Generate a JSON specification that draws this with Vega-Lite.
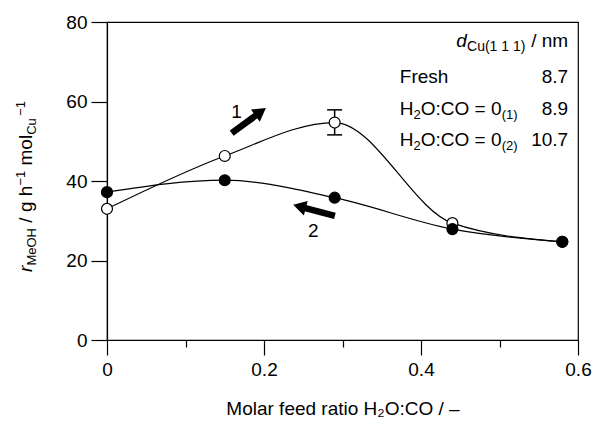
{
  "$schema": "https://vega.github.io/schema/vega-lite/v6.json",
  "width": 471,
  "height": 318,
  "autosize": {"type": "none"},
  "padding": {"left": 107, "top": 22, "right": 18, "bottom": 82},
  "background": "white",
  "config": {
    "view": {"stroke": "#000", "strokeWidth": 1.2},
    "font": "Liberation Sans",
    "text": {"font": "Liberation Sans", "fontSize": 19, "color": "#000", "baseline": "alphabetic"}
  },
  "datasets": {
    "rates": [
      {"ratio": 0, "rate": 33.0, "run": "1"},
      {"ratio": 0.15, "rate": 46.3, "run": "1"},
      {"ratio": 0.29, "rate": 54.7, "run": "1"},
      {"ratio": 0.44, "rate": 29.4, "run": "1"},
      {"ratio": 0.58, "rate": 24.7, "run": "1"},
      {"ratio": 0, "rate": 37.2, "run": "2"},
      {"ratio": 0.15, "rate": 40.2, "run": "2"},
      {"ratio": 0.29, "rate": 35.8, "run": "2"},
      {"ratio": 0.44, "rate": 27.9, "run": "2"},
      {"ratio": 0.58, "rate": 24.7, "run": "2"}
    ],
    "err": [{"ratio": 0.29, "lo": 51.6, "hi": 57.9}],
    "one": [{}]
  },
  "layer": [
    {
      "data": {"name": "rates"},
      "mark": {"type": "line", "interpolate": "monotone", "color": "#000", "strokeWidth": 1.2},
      "encoding": {
        "x": {
          "field": "ratio", "type": "quantitative",
          "scale": {"domain": [0, 0.6], "nice": false, "zero": false},
          "axis": {
            "values": [0, 0.1, 0.2, 0.3, 0.4, 0.5, 0.6],
            "format": "~g",
            "labelExpr": "round(datum.value*10)%2==0 ? datum.label : ''",
            "tickSize": {"condition": {"test": "round(datum.value*10)%2==0", "value": 15}, "value": 7},
            "grid": false,
            "domainColor": "#000", "domainWidth": 1.2,
            "tickColor": "#000", "tickWidth": 1.2,
            "labelColor": "#000", "labelFont": "Liberation Sans", "labelFontSize": 19,
            "labelPadding": 5, "labelFlush": false,
            "title": "Molar feed ratio H₂O:CO / –",
            "titleFont": "Liberation Sans", "titleFontSize": 19, "titleFontWeight": "normal",
            "titleColor": "#000", "titlePadding": 20
          }
        },
        "y": {
          "field": "rate", "type": "quantitative",
          "scale": {"domain": [0, 80], "nice": false},
          "axis": {
            "values": [0, 10, 20, 30, 40, 50, 60, 70, 80],
            "labelExpr": "round(datum.value/10)%2==0 ? datum.label : ''",
            "tickSize": {"condition": {"test": "round(datum.value/10)%2==0", "value": 16}, "value": 8},
            "grid": false,
            "domainColor": "#000", "domainWidth": 1.2,
            "tickColor": "#000", "tickWidth": 1.2,
            "labelColor": "#000", "labelFont": "Liberation Sans", "labelFontSize": 19,
            "labelPadding": 4,
            "title": null
          }
        },
        "detail": {"field": "run"}
      }
    },
    {
      "data": {"name": "err"},
      "mark": {"type": "rule", "color": "#000", "strokeWidth": 1.5},
      "encoding": {
        "x": {"field": "ratio", "type": "quantitative"},
        "y": {"field": "lo", "type": "quantitative"},
        "y2": {"field": "hi"}
      }
    },
    {
      "data": {"name": "err"},
      "mark": {"type": "tick", "orient": "horizontal", "size": 15, "thickness": 1.5, "color": "#000", "opacity": 1},
      "encoding": {
        "x": {"field": "ratio", "type": "quantitative"},
        "y": {"field": "lo", "type": "quantitative"}
      }
    },
    {
      "data": {"name": "err"},
      "mark": {"type": "tick", "orient": "horizontal", "size": 15, "thickness": 1.5, "color": "#000", "opacity": 1},
      "encoding": {
        "x": {"field": "ratio", "type": "quantitative"},
        "y": {"field": "hi", "type": "quantitative"}
      }
    },
    {
      "data": {"name": "rates"},
      "transform": [{"filter": "datum.run == '1'"}],
      "mark": {"type": "point", "shape": "circle", "filled": true, "fill": "#fff", "stroke": "#000", "strokeWidth": 1.2, "size": 120, "opacity": 1},
      "encoding": {
        "x": {"field": "ratio", "type": "quantitative"},
        "y": {"field": "rate", "type": "quantitative"}
      }
    },
    {
      "data": {"name": "rates"},
      "transform": [{"filter": "datum.run == '2'"}],
      "mark": {"type": "point", "shape": "circle", "filled": true, "fill": "#000", "stroke": "#000", "strokeWidth": 1.2, "size": 120, "opacity": 1},
      "encoding": {
        "x": {"field": "ratio", "type": "quantitative"},
        "y": {"field": "rate", "type": "quantitative"}
      }
    },
    {
      "data": {"name": "one"},
      "mark": {"type": "rule", "color": "#000", "strokeWidth": 6.5, "strokeCap": "butt"},
      "encoding": {
        "x": {"datum": 0.1588}, "y": {"datum": 52.07},
        "x2": {"datum": 0.1910}, "y2": {"datum": 56.68}
      }
    },
    {
      "data": {"name": "one"},
      "mark": {"type": "point", "shape": "triangle-up", "filled": true, "color": "#000", "size": 225, "angle": 53.9, "opacity": 1},
      "encoding": {"x": {"datum": 0.1957}, "y": {"datum": 57.40}}
    },
    {
      "data": {"name": "one"},
      "mark": {"type": "rule", "color": "#000", "strokeWidth": 6.5, "strokeCap": "butt"},
      "encoding": {
        "x": {"datum": 0.2903}, "y": {"datum": 31.23},
        "x2": {"datum": 0.2514}, "y2": {"datum": 33.25}
      }
    },
    {
      "data": {"name": "one"},
      "mark": {"type": "point", "shape": "triangle-up", "filled": true, "color": "#000", "size": 225, "angle": 284.8, "opacity": 1},
      "encoding": {"x": {"datum": 0.2452}, "y": {"datum": 33.58}}
    },
    {
      "data": {"name": "one"},
      "mark": {"type": "text", "align": "center"},
      "encoding": {"x": {"datum": 0.165}, "y": {"datum": 55.84}, "text": {"value": "1"}}
    },
    {
      "data": {"name": "one"},
      "mark": {"type": "text", "align": "center"},
      "encoding": {"x": {"datum": 0.2627}, "y": {"datum": 26.02}, "text": {"value": "2"}}
    },
    {
      "data": {"name": "one"},
      "mark": {"type": "text", "align": "left", "angle": 270, "fontStyle": "italic"},
      "encoding": {"x": {"datum": -0.0955}, "y": {"datum": 17.13}, "text": {"value": "r"}}
    },
    {
      "data": {"name": "one"},
      "mark": {"type": "text", "align": "left", "angle": 270, "fontSize": 13},
      "encoding": {"x": {"datum": -0.0904}, "y": {"datum": 18.72}, "text": {"value": "MeOH"}}
    },
    {
      "data": {"name": "one"},
      "mark": {"type": "text", "align": "left", "angle": 270},
      "encoding": {"x": {"datum": -0.0955}, "y": {"datum": 29.52}, "text": {"value": "/ g h"}}
    },
    {
      "data": {"name": "one"},
      "mark": {"type": "text", "align": "left", "angle": 270, "fontSize": 13},
      "encoding": {"x": {"datum": -0.1044}, "y": {"datum": 38.84}, "text": {"value": "−1"}}
    },
    {
      "data": {"name": "one"},
      "mark": {"type": "text", "align": "left", "angle": 270},
      "encoding": {"x": {"datum": -0.0955}, "y": {"datum": 43.90}, "text": {"value": "mol"}}
    },
    {
      "data": {"name": "one"},
      "mark": {"type": "text", "align": "left", "angle": 270, "fontSize": 13},
      "encoding": {"x": {"datum": -0.0904}, "y": {"datum": 51.61}, "text": {"value": "Cu"}}
    },
    {
      "data": {"name": "one"},
      "mark": {"type": "text", "align": "left", "angle": 270, "fontSize": 13},
      "encoding": {"x": {"datum": -0.1044}, "y": {"datum": 56.42}, "text": {"value": "−1"}}
    },
    {
      "data": {"name": "one"},
      "mark": {"type": "text", "align": "right", "fontStyle": "italic"},
      "encoding": {"x": {"datum": 0.4585}, "y": {"datum": 73.80}, "text": {"value": "d"}}
    },
    {
      "data": {"name": "one"},
      "mark": {"type": "text", "align": "right", "fontSize": 14},
      "encoding": {"x": {"datum": 0.5330}, "y": {"datum": 72.80}, "text": {"value": "Cu(1 1 1)"}}
    },
    {
      "data": {"name": "one"},
      "mark": {"type": "text", "align": "right"},
      "encoding": {"x": {"datum": 0.5875}, "y": {"datum": 73.80}, "text": {"value": "/ nm"}}
    },
    {
      "data": {"name": "one"},
      "mark": {"type": "text", "align": "left"},
      "encoding": {"x": {"datum": 0.3730}, "y": {"datum": 64.74}, "text": {"value": "Fresh"}}
    },
    {
      "data": {"name": "one"},
      "mark": {"type": "text", "align": "right"},
      "encoding": {"x": {"datum": 0.5875}, "y": {"datum": 64.74}, "text": {"value": "8.7"}}
    },
    {
      "data": {"name": "one"},
      "mark": {"type": "text", "align": "left"},
      "encoding": {"x": {"datum": 0.3730}, "y": {"datum": 56.68}, "text": {"value": "H"}}
    },
    {
      "data": {"name": "one"},
      "mark": {"type": "text", "align": "left", "fontSize": 13},
      "encoding": {"x": {"datum": 0.3904}, "y": {"datum": 55.67}, "text": {"value": "2"}}
    },
    {
      "data": {"name": "one"},
      "mark": {"type": "text", "align": "left"},
      "encoding": {"x": {"datum": 0.3997}, "y": {"datum": 56.68}, "text": {"value": "O:CO = 0"}}
    },
    {
      "data": {"name": "one"},
      "mark": {"type": "text", "align": "left", "fontSize": 13},
      "encoding": {"x": {"datum": 0.5029}, "y": {"datum": 55.67}, "text": {"value": "(1)"}}
    },
    {
      "data": {"name": "one"},
      "mark": {"type": "text", "align": "right"},
      "encoding": {"x": {"datum": 0.5875}, "y": {"datum": 56.68}, "text": {"value": "8.9"}}
    },
    {
      "data": {"name": "one"},
      "mark": {"type": "text", "align": "left"},
      "encoding": {"x": {"datum": 0.3730}, "y": {"datum": 48.87}, "text": {"value": "H"}}
    },
    {
      "data": {"name": "one"},
      "mark": {"type": "text", "align": "left", "fontSize": 13},
      "encoding": {"x": {"datum": 0.3904}, "y": {"datum": 47.86}, "text": {"value": "2"}}
    },
    {
      "data": {"name": "one"},
      "mark": {"type": "text", "align": "left"},
      "encoding": {"x": {"datum": 0.3997}, "y": {"datum": 48.87}, "text": {"value": "O:CO = 0"}}
    },
    {
      "data": {"name": "one"},
      "mark": {"type": "text", "align": "left", "fontSize": 13},
      "encoding": {"x": {"datum": 0.5029}, "y": {"datum": 47.86}, "text": {"value": "(2)"}}
    },
    {
      "data": {"name": "one"},
      "mark": {"type": "text", "align": "right"},
      "encoding": {"x": {"datum": 0.5875}, "y": {"datum": 48.87}, "text": {"value": "10.7"}}
    }
  ]
}
